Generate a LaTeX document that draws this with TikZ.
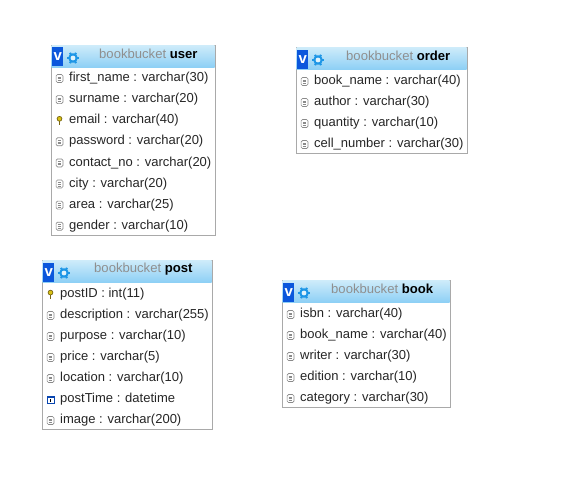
\documentclass[tikz,border=0pt]{standalone}
\usepackage{fontspec}
\setmainfont{Liberation Sans}
\definecolor{headtop}{HTML}{CDEBFA}
\definecolor{headbot}{HTML}{8CCFF5}
\definecolor{framegray}{HTML}{A9A9A9}
\definecolor{vblue}{HTML}{0B57DC}
\definecolor{gearblue}{HTML}{1E96E6}
\definecolor{icongray}{HTML}{8A8A8A}
\definecolor{keygold}{HTML}{C8A81E}
\definecolor{titlegray}{HTML}{8F8F8F}
\tikzset{
  tablebox/.style = {draw=framegray, fill=white, line width=0.8pt, anchor=north west, inner sep=0pt},
  headbar/.style = {top color=headtop, bottom color=headbot, draw=none, anchor=north west, inner sep=0pt},
  vbutton/.style = {fill=vblue, text=white, font=\fontsize{15}{15}\selectfont\bfseries, anchor=north west, inner sep=0pt, minimum width=11pt, minimum height=19pt},
  titletext/.style = {font=\fontsize{13.1}{14}\selectfont, anchor=west, inner sep=0pt},
  rowtext/.style = {font=\fontsize{13}{14}\selectfont, text=black!85, anchor=west, inner sep=0pt},
  pics/fieldicon/.style = {code={
    \draw[icongray, line width=0.7pt, fill=white, rounded corners=1.4pt] (-3.4,-4) rectangle (3.4,4);
    \draw[icongray, line width=0.6pt] (-1.9,-1.6) -- (1.9,-1.6) (-1.9,0.1) -- (1.9,0.1) (-1.9,1.8) -- (1.9,1.8);
  }},
  pics/keyicon/.style = {code={
    \draw[keygold!60!black, fill=keygold!70!yellow, line width=0.7pt] (0,-1.9) circle (2.4);
    \draw[keygold!60!black, line width=1.4pt] (0,0.4) -- (0,4.2);
  }},
  pics/dateicon/.style = {code={
    \draw[vblue!80!black, fill=white, line width=0.7pt] (-3.6,-3.6) rectangle (3.6,3.6);
    \fill[vblue!80!black] (-3.6,-3.6) rectangle (3.6,-1.8);
    \fill[black] (-0.6,-0.8) rectangle (0.6,2.4);
  }},
  pics/gearicon/.style = {code={
    \foreach \ang in {0,60,...,300}
      \draw[gearblue, line width=2pt] (0,0) -- (\ang:6);
    \fill[gearblue] (0,0) circle (4.8);
    \fill[headtop!60!white] (0,0) circle (2.4);
  }}
}
\begin{document}
\begin{tikzpicture}[x=1pt, y=-1pt]
  \useasboundingbox (0,0) rectangle (566,480);

  % user
  \node[tablebox, minimum width=164pt, minimum height=190pt] (usertable) at (51,45) {};
  \node[headbar, minimum width=163pt, minimum height=22pt] (userhead) at (51.5,45.5) {};
  \node[vbutton] (userv) at (52,47) {v};
  \pic at (73,58) {gearicon};
  \node[titletext] (usertitle) at (99,54) {\textcolor{titlegray}{bookbucket} \textbf{user}};
  \foreach \icon/\field [count=\i from 0] in {fieldicon/first\_name : varchar(30), fieldicon/surname : varchar(20), keyicon/email : varchar(40), fieldicon/password : varchar(20), fieldicon/contact\_no : varchar(20), fieldicon/city : varchar(20), fieldicon/area : varchar(25), fieldicon/gender : varchar(10)} {
    \pic at (59.5,78.5+21.1*\i) {\icon};
    \node[rowtext] (userrow\i) at (69,78.3+21.1*\i) {\field};
  }

  % order
  \node[tablebox, minimum width=171pt, minimum height=106pt] (ordertable) at (296,47) {};
  \node[headbar, minimum width=170pt, minimum height=22pt] (orderhead) at (296.5,47.5) {};
  \node[vbutton] (orderv) at (297,50) {v};
  \pic at (318,60) {gearicon};
  \node[titletext] (ordertitle) at (346,56) {\textcolor{titlegray}{bookbucket} \textbf{order}};
  \foreach \icon/\field [count=\i from 0] in {fieldicon/book\_name : varchar(40), fieldicon/author : varchar(30), fieldicon/quantity : varchar(10), fieldicon/cell\_number : varchar(30)} {
    \pic at (304.5,81.5+21*\i) {\icon};
    \node[rowtext] (orderrow\i) at (314,81+21*\i) {\field};
  }

  % post
  \node[tablebox, minimum width=170pt, minimum height=169pt] (posttable) at (42,260) {};
  \node[headbar, minimum width=169pt, minimum height=22pt] (posthead) at (42.5,260.5) {};
  \node[vbutton] (postv) at (43,263) {v};
  \pic at (64,273) {gearicon};
  \node[titletext] (posttitle) at (94,269) {\textcolor{titlegray}{bookbucket} \textbf{post}};
  \foreach \icon/\field [count=\i from 0] in {keyicon/postID : int(11), fieldicon/description : varchar(255), fieldicon/purpose : varchar(10), fieldicon/price : varchar(5), fieldicon/location : varchar(10), dateicon/postTime : datetime, fieldicon/image : varchar(200)} {
    \pic at (50.5,294.5+21*\i) {\icon};
    \node[rowtext] (postrow\i) at (60,293.8+21*\i) {\field};
  }

  % book
  \node[tablebox, minimum width=168pt, minimum height=127pt] (booktable) at (282,280) {};
  \node[headbar, minimum width=167pt, minimum height=22pt] (bookhead) at (282.5,280.5) {};
  \node[vbutton] (bookv) at (283,283) {v};
  \pic at (304,293) {gearicon};
  \node[titletext] (booktitle) at (331,289) {\textcolor{titlegray}{bookbucket} \textbf{book}};
  \foreach \icon/\field [count=\i from 0] in {fieldicon/isbn : varchar(40), fieldicon/book\_name : varchar(40), fieldicon/writer : varchar(30), fieldicon/edition : varchar(10), fieldicon/category : varchar(30)} {
    \pic at (290.5,314.5+21*\i) {\icon};
    \node[rowtext] (bookrow\i) at (300,314+21*\i) {\field};
  }
\end{tikzpicture}
\end{document}
